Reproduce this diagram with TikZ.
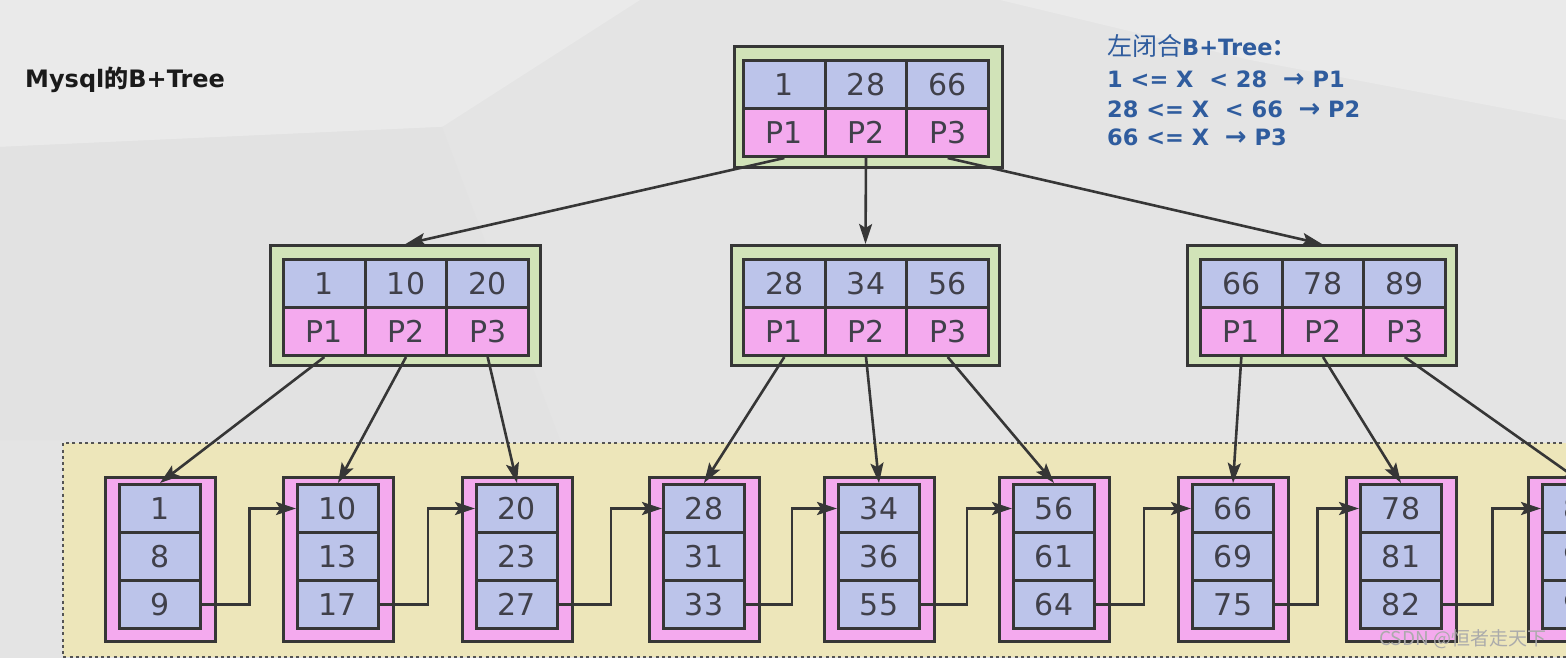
\documentclass[tikz,border=0pt]{standalone}
\usepackage{fontspec}
\setmainfont{DejaVu Sans}
\newfontfamily\cellfont{DejaVu Sans}
\newfontfamily\titlefont{DejaVu Sans}
\newfontfamily\cjk{Noto Sans CJK SC}
\newfontfamily\arrfont{DejaVu Sans}
\usetikzlibrary{arrows.meta,calc}
\definecolor{bg}{HTML}{E4E4E4}
\definecolor{bgl}{HTML}{EAEAEA}
\definecolor{bgd}{HTML}{E2E2E2}
\definecolor{gfill}{HTML}{D1E3B8}
\definecolor{kfill}{HTML}{BCC4EA}
\definecolor{pfill}{HTML}{F4AAEE}
\definecolor{yfill}{HTML}{EDE6BA}
\definecolor{bord}{HTML}{363636}
\definecolor{txt}{HTML}{40404A}
\definecolor{blu}{HTML}{2F5C9E}
\definecolor{ttl}{HTML}{1A1A1A}
\definecolor{wm}{HTML}{ABABAB}
\tikzset{
  kcell/.style={draw=bord, line width=3pt, fill=kfill, minimum width=81.67pt, minimum height=48pt,
    inner sep=0pt, anchor=north west, font=\cellfont\fontsize{30}{30}\selectfont, text=txt},
  pcell/.style={kcell, fill=pfill},
  lcell/.style={kcell, minimum width=81pt},
  gbox/.style={draw=bord, line width=3pt, fill=gfill, inner sep=0pt, anchor=north west},
  leafbox/.style={draw=bord, line width=3pt, fill=pfill, inner sep=0pt, anchor=north west,
    minimum width=110pt, minimum height=164pt},
  arr/.style={draw=bord, line width=2.6pt, -{Stealth[length=20pt,width=13pt,inset=4pt]}},
  note/.style={anchor=base west, inner sep=0pt, text=blu, font=\titlefont\bfseries\fontsize{22.5}{22.5}\selectfont}
}
\begin{document}
\begin{tikzpicture}[x=1pt,y=-1pt]
\useasboundingbox (0,0) rectangle (1566,658);
\clip (0,0) rectangle (1566,658);
% background
\fill[bg] (0,0) rectangle (1566,658);
\fill[bgl] (0,0) -- (640,0) -- (442,127) -- (0,147) -- cycle;
\fill[bgl] (1000,0) -- (1566,0) -- (1566,120) -- (1250,60) -- cycle;
\fill[bgd] (0,147) -- (442,127) -- (560,440) -- (0,440) -- cycle;
% leaf region
\fill[yfill] (63,443) rectangle (1600,657);
\draw[bord!85, line width=2.2pt, dash pattern=on 3pt off 3.3pt] (1600,443) -- (63,443) -- (63,657) -- (1600,657);
% internal nodes
\foreach \nm/\ox/\oy/\ow/\oh/\x/\y/\a/\b/\c in
  {r/733/45/268/121/742/59/1/28/66,
   L/269/244/270/120/282/258/1/10/20,
   M/730/244/268/120/742/258/28/34/56,
   R/1186/244/269/120/1199/258/66/78/89}
{
  \node[gbox, minimum width=\ow pt, minimum height=\oh pt] (\nm) at (\ox,\oy) {};
  \node[kcell] (\nm k1) at (\x,\y) {\a};
  \node[kcell] (\nm k2) at (\x+81.67,\y) {\b};
  \node[kcell] (\nm k3) at (\x+163.33,\y) {\c};
  \node[pcell] (\nm p1) at (\x,\y+48) {P1};
  \node[pcell] (\nm p2) at (\x+81.67,\y+48) {P2};
  \node[pcell] (\nm p3) at (\x+163.33,\y+48) {P3};
}
% leaves
\foreach \i/\ox/\a/\b/\c in
  {1/104/1/8/9, 2/282/10/13/17, 3/461/20/23/27, 4/648/28/31/33, 5/823/34/36/55,
   6/998/56/61/64, 7/1177/66/69/75, 8/1345/78/81/82, 9/1527/89/91/99}
{
  \node[leafbox] (l\i) at (\ox,476) {};
  \node[lcell] (l\i a) at (\ox+14,483) {\a};
  \node[lcell] (l\i b) at (\ox+14,531) {\b};
  \node[lcell] (l\i c) at (\ox+14,579) {\c};
}
% leaf chain
\foreach \i/\j in {1/2,2/3,3/4,4/5,5/6,6/7,7/8,8/9}
  \draw[arr] (l\i c.east) -| ($(l\i.east)!.5!(l\j.west)$) |- (l\j a.west);
% tree edges
\draw[arr] (rp1.south) -- (L.north);
\draw[arr] (rp2.south) -- (M.north);
\draw[arr] (rp3.south) -- (R.north);
\draw[arr] (Lp1.south) -- (l1a.north);
\draw[arr] (Lp2.south) -- (l2a.north);
\draw[arr] (Lp3.south) -- (l3a.north);
\draw[arr] (Mp1.south) -- (l4a.north);
\draw[arr] (Mp2.south) -- (l5a.north);
\draw[arr] (Mp3.south) -- (l6a.north);
\draw[arr] (Rp1.south) -- (l7a.north);
\draw[arr] (Rp2.south) -- (l8a.north);
\draw[arr] (Rp3.south) -- (l9a.north);
% texts
\node[anchor=base west, inner sep=0pt, text=ttl, font=\titlefont\bfseries\fontsize{24}{24}\selectfont]
  (title) at (25,88) {Mysql{\cjk 的}B+Tree};
\node[note] (n1) at (1107,56) {{\cjk\mdseries\fontsize{25}{25}\selectfont 左闭合}B+Tree{\cjk ：}};
\node[note] (n2) at (1107,88) {1 <= X\ \ < 28\ \ {\fontsize{26}{26}\selectfont →} P1};
\node[note] (n3) at (1107,118) {28 <= X\ \ < 66\ \ {\fontsize{26}{26}\selectfont →} P2};
\node[note] (n4) at (1107,146) {66 <= X\ \ {\fontsize{26}{26}\selectfont →} P3};
\node[anchor=base west, inner sep=0pt, text=wm, font=\cjk\fontsize{19}{19}\selectfont]
  (wmk) at (1379,645) {CSDN @恒者走天下};
\end{tikzpicture}
\end{document}
